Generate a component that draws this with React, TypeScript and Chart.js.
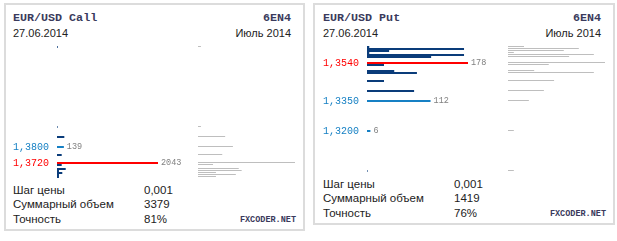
import React, { useEffect, useRef } from 'react';
import { Chart, registerables } from 'chart.js';

Chart.register(...registerables);

// ---- data ----
const STRIKE_STEP = 0.001;

const callStrikes = [1.430, 1.390, 1.385, 1.380, 1.376, 1.372, 1.371, 1.369, 1.368, 1.367, 1.366, 1.365];
const callVolumes = [15, 12, 148, 139, 95, 2043, 95, 176, 40, 107, 40, 40];
const callOpenInterest = [30, 30, 280, 360, 250, 1000, 155, 420, 450, 185, 390, 185];
const callLabelledStrikes = [1.380, 1.372];
const callPeakStrike = 1.372;
const callFooterValues = ['0,001', '3379', '81%'];

const putStrikes = [1.362, 1.361, 1.360, 1.359, 1.358, 1.357, 1.354, 1.353, 1.350, 1.349, 1.345, 1.340, 1.335, 1.320, 1.300];
const putVolumes = [4, 171, 39, 4, 171, 113, 178, 30, 48, 88, 30, 83, 112, 6, 1];
const putOpenInterest = [165, 730, 575, 60, 885, 630, 1000, 420, 270, 885, 475, 370, 215, 60, 60];
const putLabelledStrikes = [1.354, 1.335, 1.320];
const putPeakStrike = 1.354;
const putFooterValues = ['0,001', '1419', '76%'];

const footerLabels = ['Шаг цены', 'Суммарный объем', 'Точность'];

// ---- styles ----
const RED = '#ff0000';
const BLUE = '#1680c4';
const DARK = '#0a3c7a';
const GRAY_LINE = '#bebebe';
const TITLE_COLOR = '#3a3a5c';
const TEXT_COLOR = '#222222';
const MONO = '"Liberation Mono", "DejaVu Sans Mono", monospace';
const SANS = '"Liberation Sans", Arial, sans-serif';

const same = (a: number, b: number) => Math.abs(a - b) < 1e-9;
const fmtStrike = (v: number) => Number(v).toFixed(4).replace('.', ',');

function ChartCanvas({ left, top, width, height, make }: any) {
  const ref = useRef<HTMLCanvasElement>(null);
  useEffect(() => {
    const chart = make(ref.current!);
    return () => chart.destroy();
  }, []);
  return (
    <canvas
      ref={ref}
      width={width}
      height={height}
      style={{ position: 'absolute', left, top, width, height, display: 'block' }}
    />
  );
}

function makeVolumeChart(strikes: number[], volumes: number[], labelled: number[], peak: number, yMin: number, yMax: number) {
  return (canvas: HTMLCanvasElement) => {
    const colorFor = (s: number) => (same(s, peak) ? RED : labelled.some((l) => same(l, s)) ? BLUE : DARK);
    const valueLabels = {
      id: 'valueLabels',
      afterDatasetsDraw(chart: any) {
        const ctx = chart.ctx;
        const meta = chart.getDatasetMeta(0);
        const pts = chart.data.datasets[0].data as any[];
        ctx.save();
        ctx.font = '8.5px ' + MONO;
        ctx.fillStyle = '#808080';
        ctx.textBaseline = 'middle';
        ctx.textAlign = 'left';
        meta.data.forEach((el: any, i: number) => {
          const p = pts[i];
          if (labelled.some((l) => same(l, p.y))) ctx.fillText(String(p.x), el.x + 3, el.y);
        });
        ctx.restore();
      },
    };
    return new Chart(canvas, {
      type: 'bar',
      data: {
        datasets: [
          {
            data: strikes.map((s, i) => ({ x: volumes[i], y: s })) as any,
            backgroundColor: strikes.map(colorFor),
            barThickness: 2,
            borderWidth: 0,
            inflateAmount: 0,
          } as any,
        ],
      },
      options: {
        indexAxis: 'y',
        animation: false,
        responsive: false,
        devicePixelRatio: 1,
        layout: { padding: { left: 0, right: 35, top: 0, bottom: 0 } },
        plugins: { legend: { display: false }, tooltip: { enabled: false } },
        scales: {
          x: { type: 'linear', display: false, min: 0, max: Math.max(...volumes) },
          y: {
            type: 'linear',
            offset: false,
            min: yMin,
            max: yMax,
            grid: { display: false },
            border: { display: false },
            afterBuildTicks: (axis: any) => {
              axis.ticks = labelled.map((v) => ({ value: v }));
            },
            afterFit: (axis: any) => {
              axis.width = 44;
              axis.paddingTop = 0;
              axis.paddingBottom = 0;
            },
            ticks: {
              autoSkip: false,
              crossAlign: 'far',
              padding: 0,
              font: { family: MONO, size: 10 },
              color: (ctx: any) => colorFor(ctx.tick.value),
              callback: (v: any) => fmtStrike(v),
            },
          } as any,
        },
      },
      plugins: [valueLabels],
    });
  };
}

function makeInterestChart(strikes: number[], interest: number[], yMin: number, yMax: number) {
  return (canvas: HTMLCanvasElement) =>
    new Chart(canvas, {
      type: 'bar',
      data: {
        datasets: [
          {
            data: strikes.map((s, i) => ({ x: interest[i], y: s })) as any,
            backgroundColor: GRAY_LINE,
            barThickness: 1,
            borderWidth: 0,
            inflateAmount: 0,
          } as any,
        ],
      },
      options: {
        indexAxis: 'y',
        animation: false,
        responsive: false,
        devicePixelRatio: 1,
        layout: { padding: 0 },
        plugins: { legend: { display: false }, tooltip: { enabled: false } },
        scales: {
          x: { type: 'linear', display: false, min: 0, max: Math.max(...interest) },
          y: { type: 'linear', display: false, offset: false, min: yMin, max: yMax } as any,
        },
      },
    });
}

function Txt({ x, y, right, font, color, children }: any) {
  const style: any = {
    position: 'absolute',
    top: y,
    whiteSpace: 'nowrap',
    font,
    lineHeight: '12px',
    color,
  };
  if (right !== undefined) style.right = 617 - right;
  else style.left = x;
  return <div style={style}>{children}</div>;
}

function Panel({ dx, boxLeft, boxWidth, title, strikes, volumes, interest, labelled, peak, footerValues }: any) {
  const chartTop = 40;
  const yMax = Math.max(...strikes) + 3.5 * STRIKE_STEP;
  const yMinRaw = Math.min(...strikes) - 1.5 * STRIKE_STEP;
  const steps = Math.round((yMax - yMinRaw) / STRIKE_STEP);
  const chartHeight = steps * 2;
  const yMin = yMax - steps * STRIKE_STEP;
  const grayMax = yMax - 0.25 * STRIKE_STEP;
  const grayMin = grayMax - steps * STRIKE_STEP;
  const chartBottom = chartTop + chartHeight;
  const rowBase = [chartBottom + 14, chartBottom + 28.3, chartBottom + 42.6];

  return (
    <>
      <div
        style={{
          position: 'absolute',
          left: boxLeft,
          top: 3,
          width: boxWidth,
          height: chartBottom + 51 - 3,
          boxSizing: 'border-box',
          border: '2px solid #dcdcdc',
          background: '#fff',
        }}
      />
      <Txt x={13 + dx} y={12} font={'bold 11.7px ' + MONO} color={TITLE_COLOR}>{title}</Txt>
      <Txt right={291 + dx} y={12} font={'bold 11.7px ' + MONO} color={TITLE_COLOR}>6EN4</Txt>
      <Txt x={13 + dx} y={27} font={'11px ' + SANS} color={TEXT_COLOR}>27.06.2014</Txt>
      <Txt right={291 + dx} y={27} font={'11px ' + SANS} color={TEXT_COLOR}>Июль 2014</Txt>

      <ChartCanvas
        left={13 + dx}
        top={chartTop}
        width={180}
        height={chartHeight}
        make={makeVolumeChart(strikes, volumes, labelled, peak, yMin, yMax)}
      />
      <ChartCanvas
        left={198 + dx}
        top={chartTop}
        width={97}
        height={chartHeight}
        make={makeInterestChart(strikes, interest, grayMin, grayMax)}
      />

      {footerLabels.map((lbl, i) => (
        <React.Fragment key={lbl}>
          <Txt x={13 + dx} y={rowBase[i] - 10.1} font={'11.5px ' + SANS} color={TEXT_COLOR}>{lbl}</Txt>
          <Txt x={144 + dx} y={rowBase[i] - 10.1} font={'11.5px ' + SANS} color={TEXT_COLOR}>{footerValues[i]}</Txt>
        </React.Fragment>
      ))}
      <Txt right={296 + dx} y={rowBase[2] - 8.3} font={'bold 8.5px ' + MONO} color={TITLE_COLOR}>FXCODER.NET</Txt>
    </>
  );
}

export default function App() {
  return (
    <div style={{ position: 'absolute', left: 0, top: 0, width: 617, height: 241, background: '#fff', overflow: 'hidden' }}>
      <Panel
        dx={0}
        boxLeft={4}
        boxWidth={301}
        title="EUR/USD Call"
        strikes={callStrikes}
        volumes={callVolumes}
        interest={callOpenInterest}
        labelled={callLabelledStrikes}
        peak={callPeakStrike}
        footerValues={callFooterValues}
      />
      <Panel
        dx={310}
        boxLeft={313}
        boxWidth={302}
        title="EUR/USD Put"
        strikes={putStrikes}
        volumes={putVolumes}
        interest={putOpenInterest}
        labelled={putLabelledStrikes}
        peak={putPeakStrike}
        footerValues={putFooterValues}
      />
    </div>
  );
}
